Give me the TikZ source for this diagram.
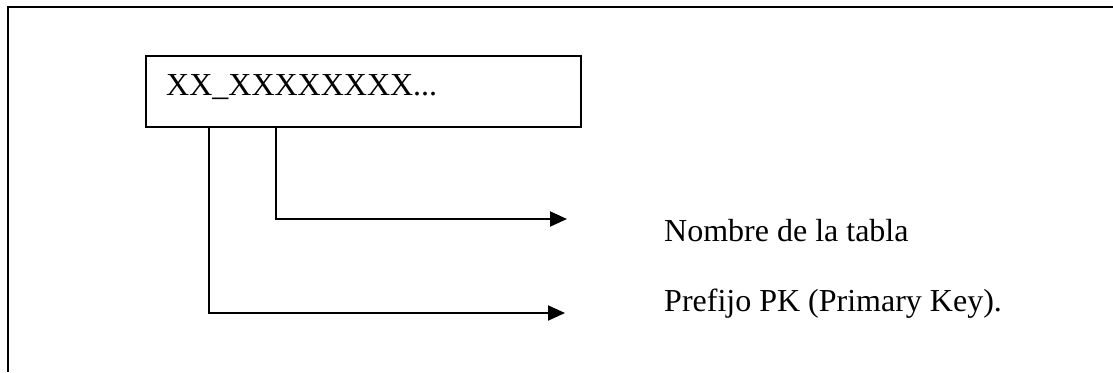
\documentclass[tikz,border=0pt]{standalone}
\usepackage{fontspec}
\setmainfont{Liberation Serif}
\usetikzlibrary{arrows.meta,calc}
\begin{document}
\begin{tikzpicture}[x=1pt,y=-1pt,
  line/.style={line width=2pt,draw=black},
  arr/.style={line, -{Triangle[length=17pt,width=15pt]}},
  txt/.style={inner sep=0pt,anchor=base west,font=\fontsize{32}{38}\selectfont}]
\useasboundingbox (0,0) rectangle (1113,372);
\fill[white] (0,0) rectangle (1113,372);
% outer frame (only top and left edges visible)
\draw[line] (8,372) -- (8,7) -- (1113,7);
% box
\node[line, rectangle, minimum width=435pt, minimum height=71pt, inner sep=0pt] (box) at (363.5,91.5) {};
\node[txt] (code) at (166,95) {XX\_XXXXXXXX...};
% targets
\coordinate (t1) at (567,219);
\coordinate (t2) at (565,313);
\draw[arr] ($(box.south west)+(131,0)$) |- (t1);
\draw[arr] ($(box.south west)+(64,0)$) |- (t2);
% labels
\node[txt] (nombre) at (664,241) {Nombre de la tabla};
\node[txt] (prefijo) at (664,311) {Prefijo PK (Primary Key).};
\end{tikzpicture}
\end{document}
